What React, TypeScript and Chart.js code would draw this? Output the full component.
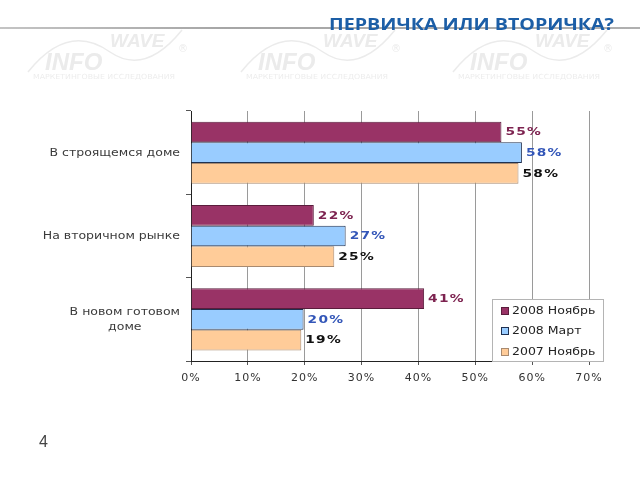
import React, { useEffect, useRef } from 'react';
import { Chart, registerables } from 'chart.js';

Chart.register(...registerables);

// ---- data ----
const categories: string[][] = [
  ['В строящемся доме'],
  ['На вторичном рынке'],
  ['В новом готовом', 'доме'],
];
const seriesNames = ['2008 Ноябрь', '2008 Март', '2007 Ноябрь'];
const nov2008 = [54.6, 21.6, 41.0];
const mar2008 = [58.2, 27.2, 19.8];
const nov2007 = [57.6, 25.2, 19.4];
const xMin = 0;
const xMax = 70;
const xStep = 10;
const titleText = 'ПЕРВИЧКА ИЛИ ВТОРИЧКА?';
const pageNumber = '4';
const watermarkTop = 'WAVE';
const watermarkBottom = 'INFO';
const watermarkCaption = 'МАРКЕТИНГОВЫЕ ИССЛЕДОВАНИЯ';

// ---- styles ----
const fills = ['#993366', '#99ccff', '#ffcc99'];
const borders = ['#5a1d3c', '#1f3050', '#a88a70'];
const labelColors = ['#7d2350', '#3356b8', '#111111'];
const SX = 1.25;

function stretchedText(
  ctx: CanvasRenderingContext2D,
  text: string,
  x: number,
  y: number,
  align: CanvasTextAlign,
  sx: number
) {
  ctx.save();
  ctx.translate(x, y);
  ctx.scale(sx, 1);
  ctx.textAlign = align;
  ctx.fillText(text, 0, 0);
  ctx.restore();
}

const decorPlugin = {
  id: 'decor',
  beforeDraw(chart: any) {
    const ctx: CanvasRenderingContext2D = chart.ctx;
    ctx.save();
    ctx.fillStyle = '#ffffff';
    ctx.fillRect(0, 0, chart.width, chart.height);

    // watermarks
    [0, 213, 425].forEach((off) => {
      ctx.strokeStyle = '#ebebeb';
      ctx.lineWidth = 1.5;
      ctx.beginPath();
      ctx.moveTo(28 + off, 72);
      ctx.quadraticCurveTo(68 + off, 22, 110 + off, 52);
      ctx.quadraticCurveTo(145 + off, 76, 182 + off, 30);
      ctx.stroke();
      ctx.fillStyle = '#ebebeb';
      ctx.textBaseline = 'alphabetic';
      ctx.font = 'italic bold 24px "Liberation Sans"';
      stretchedText(ctx, watermarkBottom, 45 + off, 70, 'left', 1.0);
      ctx.font = 'italic bold 19px "Liberation Sans"';
      stretchedText(ctx, watermarkTop, 110 + off, 47, 'left', 1.0);
      ctx.font = '10px "DejaVu Sans"';
      stretchedText(ctx, '®', 178 + off, 52, 'left', 1.0);
      ctx.fillStyle = '#ededed';
      ctx.font = '7px "DejaVu Sans"';
      const w = ctx.measureText(watermarkCaption).width;
      stretchedText(ctx, watermarkCaption, 33 + off, 79, 'left', 142 / w);
    });

    // header line
    const g = ctx.createLinearGradient(0, 0, 640, 0);
    g.addColorStop(0, '#c4c4c4');
    g.addColorStop(0.35, '#a6a6a6');
    g.addColorStop(1, '#b0b0b0');
    ctx.fillStyle = g;
    ctx.fillRect(0, 27, 640, 2);
    ctx.restore();
    (ctx as any).letterSpacing = '1px';
  },
  afterDatasetsDraw(chart: any) {
    const ctx: CanvasRenderingContext2D = chart.ctx;
    ctx.save();
    (ctx as any).letterSpacing = '1px';
    ctx.font = 'bold 11px "DejaVu Sans"';
    ctx.textBaseline = 'middle';
    chart.data.datasets.forEach((ds: any, d: number) => {
      const meta = chart.getDatasetMeta(d);
      meta.data.forEach((bar: any, i: number) => {
        const v = ds.data[i] as number;
        ctx.fillStyle = labelColors[d];
        stretchedText(ctx, Math.round(v) + '%', bar.x + 4, bar.y + 0.5, 'left', SX);
      });
    });
    ctx.restore();
  },
  afterDraw(chart: any) {
    const ctx: CanvasRenderingContext2D = chart.ctx;
    const area = chart.chartArea;
    const yScale = chart.scales.y;
    ctx.save();
    (ctx as any).letterSpacing = '0px';

    // category labels
    ctx.font = '10px "DejaVu Sans"';
    ctx.fillStyle = '#3a3a3a';
    ctx.textBaseline = 'middle';
    const right = area.left - 11;
    (chart.data.labels as string[][]).forEach((lines, i) => {
      const cy = yScale.getPixelForValue(i);
      const widths = lines.map((l) => ctx.measureText(l).width * SX);
      const blockW = Math.max(...widths);
      const cx = right - blockW / 2;
      lines.forEach((l, j) => {
        const y = cy + (j - (lines.length - 1) / 2) * 15.6 + 0.5;
        stretchedText(ctx, l, cx, y, 'center', SX);
      });
    });

    // legend
    const lx = area.right - 97;
    const ly = area.bottom - 62;
    const lw = 112;
    const lh = 63;
    ctx.fillStyle = '#ffffff';
    ctx.fillRect(lx, ly, lw, lh);
    ctx.strokeStyle = '#b4b4b4';
    ctx.lineWidth = 1;
    ctx.strokeRect(lx + 0.5, ly + 0.5, lw - 1, lh - 1);
    chart.data.datasets.forEach((ds: any, d: number) => {
      const y = ly + 11.5 + d * 20.7;
      ctx.fillStyle = fills[d];
      ctx.fillRect(lx + 10, Math.round(y) - 3, 6, 6);
      ctx.strokeStyle = borders[d];
      ctx.strokeRect(lx + 9.5, Math.round(y) - 3.5, 7, 7);
      ctx.fillStyle = '#222222';
      ctx.font = '10px "DejaVu Sans"';
      stretchedText(ctx, ds.label, lx + 20, y + 0.5, 'left', SX);
    });

    // title
    ctx.font = 'bold 16px "Open Sans"';
    ctx.fillStyle = '#1c5ea6';
    ctx.textBaseline = 'alphabetic';
    const tw = ctx.measureText(titleText).width;
    stretchedText(ctx, titleText, 614, 30, 'right', 285 / tw);

    // page number
    ctx.font = '16px "Liberation Sans"';
    ctx.fillStyle = '#444444';
    stretchedText(ctx, pageNumber, 39, 447, 'left', 1);
    ctx.restore();
  },
};

export default function App() {
  const ref = useRef<HTMLCanvasElement>(null);
  useEffect(() => {
    if (!ref.current) return;
    const chart = new Chart(ref.current, {
      type: 'bar',
      data: {
        labels: categories as any,
        datasets: [nov2008, mar2008, nov2007].map((data, i) => ({
          label: seriesNames[i],
          data,
          backgroundColor: fills[i],
          borderColor: borders[i],
          borderWidth: 1,
          categoryPercentage: 0.745,
          barPercentage: 1,
        })),
      },
      options: {
        indexAxis: 'y',
        responsive: false,
        animation: false,
        layout: { padding: { left: 191, top: 111, right: 51, bottom: 89 } },
        plugins: {
          legend: { display: false },
          tooltip: { enabled: false },
          title: { display: false },
        },
        scales: {
          x: {
            min: xMin,
            max: xMax,
            ticks: {
              stepSize: xStep,
              callback: (v: any) => v + '%',
              font: { family: 'DejaVu Sans', size: 11 },
              color: '#333333',
              padding: 7,
              maxRotation: 0,
            },
            grid: { color: '#9a9a9a', lineWidth: 1, tickLength: 4, tickColor: '#555555' },
            border: { display: true, color: '#222222', width: 1 },
            afterFit: (s: any) => {
              s.height = 30;
            },
          },
          y: {
            ticks: { display: false },
            grid: { display: true, drawOnChartArea: false, offset: true, tickLength: 5, color: '#555555' },
            border: { display: true, color: '#222222', width: 1 },
            afterFit: (s: any) => {
              s.width = 0;
            },
          },
        },
      },
      plugins: [decorPlugin],
    });
    return () => chart.destroy();
  }, []);
  return (
    <div style={{ position: 'fixed', left: 0, top: 0, width: 640, height: 480, background: '#fff' }}>
      <canvas ref={ref} width={640} height={480} style={{ display: 'block' }} />
    </div>
  );
}
